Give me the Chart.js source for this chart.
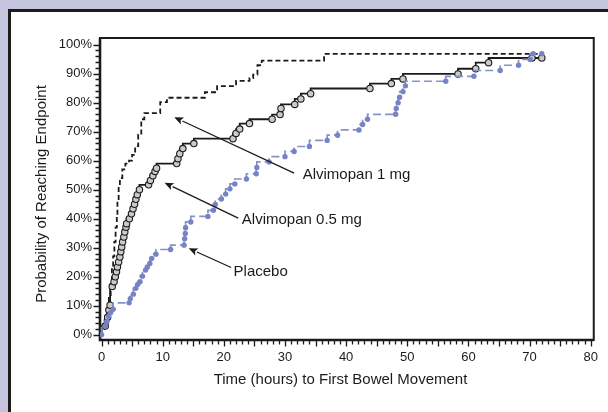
<!DOCTYPE html>
<html lang="en">
<head>
<meta charset="UTF-8">
<title>Time to First Bowel Movement</title>
<script src="https://cdn.jsdelivr.net/npm/chart.js@4.4.0"></script>
<style>
  html, body { margin: 0; padding: 0; }
  body { width: 608px; height: 412px; overflow: hidden; position: relative; background: #c4c4df; }
  .frame { position: absolute; left: 8px; top: 9px; width: 700px; height: 500px; background: #fff;
           border-left: 3px solid #1b1b1b; border-top: 3px solid #1b1b1b; }
  canvas { position: absolute; left: 0; top: 0; }
</style>
</head>
<body>
<div class="frame"></div>
<canvas id="km" width="608" height="412"></canvas>
<script>
// hours vs cumulative probability (%)
const time1mg = [0, 0.5, 0.9, 1.2, 1.5, 1.7, 1.9, 2.1, 2.3, 2.5, 2.6, 2.8, 3.0, 3.4, 3.9, 4.5, 5.0, 5.5, 6.0, 6.5, 7.0,
                 9.6, 10.7, 16.9, 18.9, 22.0, 24.2, 24.8, 25.5, 26.2, 36.4, 56.1, 72.0];
const prob1mg = [0, 2, 5, 9, 13, 18, 23, 27, 32, 37, 41, 46, 51, 54, 57, 59, 60, 62, 65, 69, 74.3,
                 76.4, 80.2, 81.7, 83.6, 85.7, 87.5, 88.5, 89.7, 92.9, 94.5, 96.8, 96.8];

const time05mg = [0, 0.6, 1.0, 1.2, 1.4, 1.75, 2.05, 2.25, 2.45, 2.6, 2.8, 3.0, 3.15, 3.3, 3.45, 3.65, 3.8, 4.0,
                  4.1, 4.55, 4.9, 5.15, 5.4, 5.62, 5.85, 6.2, 7.7, 8.0, 8.4, 8.75, 9.0, 12.3, 12.5, 12.8, 13.3,
                  15.1, 21.5, 22.0, 22.6, 24.2, 27.9, 29.2, 29.35, 31.6, 32.6, 34.2, 43.9, 47.4, 49.3, 58.3,
                  61.2, 63.3, 70.4, 72.0];
const prob05mg = [0, 3, 6, 8.5, 10.2, 16.6, 18.3, 20.0, 21.7, 23.4, 25.1, 26.8, 28.6, 30.3, 32.0, 33.7, 35.4, 37.1,
                  38.3, 40.0, 41.7, 43.4, 45.0, 46.7, 48.3, 50.0, 51.7, 53.2, 54.8, 56.3, 57.4, 59.0, 60.7, 62.4, 64.2,
                  65.9, 67.6, 69.4, 70.9, 72.8, 74.3, 75.9, 78.0, 79.4, 81.3, 83.1, 84.9, 86.6, 88.2, 89.9,
                  91.7, 93.8, 95.4, 95.4];

const timePlacebo = [0, 0.6, 0.9, 1.15, 1.5, 1.9, 4.5, 4.7, 5.2, 5.6, 5.9, 6.3, 6.7, 7.2, 7.5, 7.9, 8.2, 8.9, 11.3,
                     13.5, 13.6, 13.7, 13.75, 14.6, 17.4, 18.3, 18.6, 19.6, 20.3, 21.0, 21.8, 23.7, 25.3, 25.4, 27.4,
                     30.0, 31.5, 34.0, 36.9, 38.6, 42.1, 42.7, 43.5, 48.1, 48.2, 48.5, 48.75, 49.3, 49.7, 56.3,
                     60.9, 65.2, 68.2, 70.1, 70.6, 72.0];
const probPlacebo = [0, 2.9, 4.6, 6.3, 7.7, 8.8, 11.0, 12.4, 14.0, 16.0, 17.3, 18.3, 20.2, 22.3, 23.4, 24.6, 26.3, 27.8, 29.4,
                     30.9, 33.1, 34.9, 36.9, 38.9, 40.8, 42.9, 44.9, 46.8, 48.5, 50.3, 52.0, 53.7, 55.5, 57.7, 59.6,
                     61.4, 63.2, 64.9, 67.0, 68.8, 70.6, 72.5, 74.3, 76.0, 78.0, 80.0, 81.9, 83.8, 85.8, 87.4,
                     89.1, 91.1, 92.9, 94.9, 96.9, 96.9];

const xTickValues = [0, 10, 20, 30, 40, 50, 60, 70, 80];
const yTickValues = [0, 10, 20, 30, 40, 50, 60, 70, 80, 90, 100];

const xTitle = 'Time (hours) to First Bowel Movement';
const yTitle = 'Probability of Reaching Endpoint';

// label, text anchor, arrow tail, arrow tip (data coords)
const callouts = [
  { text: 'Alvimopan 1 mg',   at: [32.9, 55.1],  tail: [31.5, 55.7],  tip: [11.9, 75.0] },
  { text: 'Alvimopan 0.5 mg', at: [22.95, 39.6], tail: [22.35, 40.2], tip: [10.3, 52.4] },
  { text: 'Placebo',          at: [21.6, 21.75], tail: [21.2, 23.2],  tip: [14.25, 29.8] }
];

const ink = '#1b1b1b';
const FONT = "'Liberation Sans', Arial, sans-serif";

const pts = (ts, ps) => ts.map((t, i) => ({ x: t, y: ps[i] }));

const decor = {
  id: 'decor',
  beforeDatasetsDraw(chart) {
    const { ctx, chartArea: a, scales: { x, y } } = chart;
    ctx.save();
    ctx.strokeStyle = ink;
    ctx.lineWidth = 2;
    ctx.strokeRect(a.left, a.top, a.right - a.left, a.bottom - a.top);
    ctx.lineWidth = 2.6;
    ctx.beginPath();
    ctx.moveTo(a.left, a.top); ctx.lineTo(a.left, a.bottom); ctx.lineTo(a.right, a.bottom);
    ctx.stroke();

    // tick marks: hours every 1, % every 2
    ctx.lineWidth = 1.3;
    ctx.beginPath();
    for (let h = 0; h <= 80; h++) {
      const px = Math.round(x.getPixelForValue(h)) + 0.5;
      ctx.moveTo(px, a.bottom); ctx.lineTo(px, a.bottom + 1.5 + (h % 5 === 0 ? 5 : 3));
    }
    for (let p = 0; p <= 100; p += 2) {
      const py = Math.round(y.getPixelForValue(p)) + 0.5;
      ctx.moveTo(a.left, py); ctx.lineTo(a.left - 1.5 - (p % 10 === 0 ? 5 : 3), py);
    }
    ctx.stroke();

    ctx.fillStyle = ink;
    ctx.font = '15px ' + FONT;
    ctx.textAlign = 'center';
    ctx.textBaseline = 'middle';
    ctx.fillText(xTitle, 340.5, 380);
    ctx.translate(41.5, 194);
    ctx.rotate(-Math.PI / 2);
    ctx.fillText(yTitle, 0, 0);
    ctx.restore();
  },
  afterDatasetsDraw(chart) {
    const { ctx, scales: { x, y } } = chart;
    ctx.save();
    ctx.strokeStyle = ink;
    ctx.fillStyle = ink;
    ctx.lineWidth = 1.3;
    ctx.font = '15px ' + FONT;
    ctx.textAlign = 'left';
    ctx.textBaseline = 'middle';
    callouts.forEach(c => {
      const tx = x.getPixelForValue(c.tail[0]), ty = y.getPixelForValue(c.tail[1]);
      const hx = x.getPixelForValue(c.tip[0]), hy = y.getPixelForValue(c.tip[1]);
      const ang = Math.atan2(hy - ty, hx - tx);
      const len = 9, half = 3.8;
      const bx = hx - len * Math.cos(ang), by = hy - len * Math.sin(ang);
      ctx.beginPath();
      ctx.moveTo(tx, ty); ctx.lineTo(bx, by);
      ctx.stroke();
      ctx.beginPath();
      ctx.moveTo(hx, hy);
      ctx.lineTo(bx + half * Math.sin(ang), by - half * Math.cos(ang));
      ctx.lineTo(bx + 2 * Math.cos(ang), by + 2 * Math.sin(ang));
      ctx.lineTo(bx - half * Math.sin(ang), by + half * Math.cos(ang));
      ctx.closePath();
      ctx.fill();
      ctx.fillText(c.text, x.getPixelForValue(c.at[0]), y.getPixelForValue(c.at[1]));
    });
    ctx.restore();
  }
};

Chart.defaults.font.family = FONT;
Chart.defaults.color = ink;

new Chart(document.getElementById('km'), {
  type: 'line',
  data: {
    datasets: [
      {
        label: 'Placebo',
        data: pts(timePlacebo, probPlacebo),
        stepped: 'after',
        borderColor: '#8591cb',
        borderWidth: 1.7,
        borderDash: [8, 4],
        pointRadius: 2.7,
        pointBackgroundColor: '#7783c4',
        pointBorderWidth: 0
      },
      {
        label: 'Alvimopan 0.5 mg',
        data: pts(time05mg, prob05mg),
        stepped: 'after',
        borderColor: ink,
        borderWidth: 1.8,
        pointRadius: ctx => ctx.dataIndex === 0 ? 0 : 3.2,
        pointBackgroundColor: '#cacaca',
        pointBorderColor: ink,
        pointBorderWidth: 1.1
      },
      {
        label: 'Alvimopan 1 mg',
        data: pts(time1mg, prob1mg),
        stepped: 'after',
        borderColor: ink,
        borderWidth: 1.8,
        borderDash: [5, 3],
        pointRadius: 0
      }
    ]
  },
  options: {
    responsive: false,
    animation: false,
    devicePixelRatio: 1,
    layout: { padding: { left: 0, top: 38, right: 13, bottom: 0 } },
    plugins: { legend: { display: false }, tooltip: { enabled: false } },
    scales: {
      x: {
        type: 'linear',
        min: -0.25,
        max: 80.5,
        grid: { display: false, drawTicks: false },
        border: { display: false },
        afterBuildTicks: s => { s.ticks = xTickValues.map(v => ({ value: v })); },
        afterFit: s => { s.height = 72; },
        ticks: { padding: 10, font: { size: 13 }, maxRotation: 0, autoSkip: false, includeBounds: false }
      },
      y: {
        min: -1.8,
        max: 102.3,
        grid: { display: false, drawTicks: false },
        border: { display: false },
        afterBuildTicks: s => { s.ticks = yTickValues.map(v => ({ value: v })); },
        afterFit: s => { s.width = 100; },
        ticks: { padding: 8, font: { size: 13 }, includeBounds: false, callback: v => v + '%' }
      }
    }
  },
  plugins: [decor]
});
</script>
</body>
</html>
